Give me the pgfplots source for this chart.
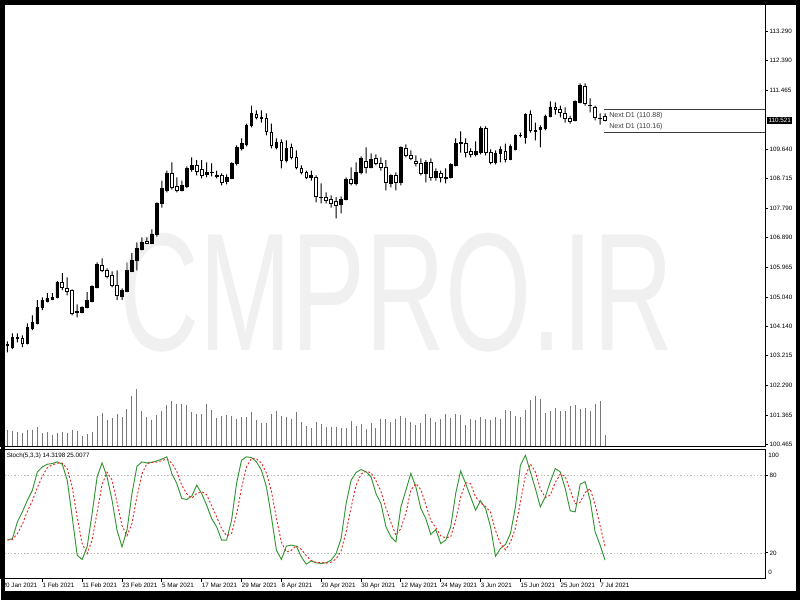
\documentclass[border=0pt]{standalone}
\usepackage{fontspec}
\setmainfont{Liberation Sans}
\usepackage{pgfplots}
\usepackage{pgfplotstable}
\pgfplotsset{compat=1.18}
\definecolor{wm}{RGB}{240,240,240}
\definecolor{volgray}{RGB}{120,120,120}
\definecolor{kgreen}{RGB}{50,150,50}
\definecolor{dred}{RGB}{230,40,40}
\definecolor{lvl}{RGB}{185,185,185}
\definecolor{nextgray}{RGB}{60,60,60}
\newcommand{\tf}{\fontsize{4.7pt}{5.6pt}\selectfont}

\pgfplotstableread{
i O H L C V K D
1 103.54 103.66 103.32 103.57 1670 30.0 30.0
2 103.48 103.91 103.42 103.79 1500 31.0 30.3
3 103.76 103.91 103.63 103.79 1430 44.0 35.0
4 103.76 103.85 103.48 103.60 1330 51.7 42.2
5 103.60 104.22 103.57 104.10 1670 60.7 52.1
6 104.07 104.47 104.01 104.25 1600 68.4 60.3
7 104.22 104.94 104.19 104.72 1930 82.6 70.6
8 104.72 105.03 104.63 104.94 1330 86.4 79.1
9 104.91 105.16 104.87 105.00 1400 88.5 85.8
10 104.97 105.16 104.94 105.03 1170 89.0 88.0
11 105.03 105.53 105.00 105.50 1330 90.3 89.3
12 105.50 105.78 105.25 105.34 1400 88.5 89.3
13 105.31 105.65 105.09 105.22 1330 76.1 85.0
14 105.25 105.28 104.47 104.53 1670 47.8 70.8
15 104.60 104.81 104.41 104.57 1530 18.2 47.4
16 104.57 104.75 104.53 104.72 1000 14.9 27.0
17 104.72 105.19 104.69 104.94 1270 24.7 19.3
18 104.91 105.40 104.87 105.37 1430 50.4 30.0
19 105.34 106.12 105.31 106.06 3000 78.7 51.3
20 106.02 106.24 105.81 105.87 3370 89.5 72.9
21 105.87 105.93 105.62 105.68 2670 78.7 82.3
22 105.71 105.84 105.34 105.40 2830 60.7 76.3
23 105.40 105.87 104.94 105.09 3200 37.5 59.0
24 105.06 105.31 104.94 105.25 2930 24.7 41.0
25 105.22 106.12 105.19 105.87 3730 37.5 33.2
26 105.84 106.40 105.81 106.18 5000 65.8 42.7
27 106.18 106.74 105.87 106.55 5700 86.9 63.4
28 106.52 106.89 106.49 106.74 3500 90.3 81.0
29 106.77 106.89 106.68 106.71 2930 89.5 88.9
30 106.71 107.14 106.68 106.99 2670 90.0 89.9
31 106.99 107.98 106.92 107.95 3100 91.1 90.2
32 107.95 108.66 107.82 108.42 3530 92.4 91.2
33 108.35 108.97 108.29 108.88 4100 94.2 92.6
34 108.88 109.22 108.38 108.45 4530 81.3 89.3
35 108.48 108.76 108.29 108.35 4270 73.6 83.0
36 108.35 108.66 108.32 108.51 4270 62.0 72.3
37 108.48 109.10 108.42 109.04 4100 61.2 65.6
38 109.01 109.38 108.94 109.13 3470 63.8 62.3
39 109.13 109.29 108.82 108.94 3270 72.3 65.8
40 109.01 109.29 108.73 108.82 3270 65.8 67.3
41 108.85 109.22 108.76 108.91 4270 56.8 65.0
42 108.91 109.19 108.79 108.90 3670 46.5 56.4
43 108.79 108.97 108.73 108.82 2870 40.1 47.8
44 108.82 108.88 108.51 108.60 3000 29.8 38.8
45 108.63 108.85 108.54 108.76 3170 29.8 33.2
46 108.73 109.22 108.70 109.19 3000 45.3 35.0
47 109.19 109.75 109.13 109.69 2770 73.6 49.6
48 109.66 109.97 109.60 109.81 2930 91.6 70.2
49 109.78 110.43 109.72 110.37 2930 94.2 86.5
50 110.37 110.99 110.31 110.75 3430 93.6 93.1
51 110.71 110.84 110.56 110.62 2670 90.3 92.7
52 110.62 110.84 110.46 110.59 2330 83.9 89.3
53 110.59 110.75 110.06 110.19 2330 71.0 81.7
54 110.16 110.43 109.66 109.75 3200 47.8 67.6
55 109.69 109.97 109.63 109.84 3500 22.1 47.0
56 109.84 109.94 109.04 109.29 3000 14.9 28.3
57 109.29 109.91 109.22 109.66 2930 25.2 20.7
58 109.69 109.81 109.32 109.38 2730 26.0 22.0
59 109.38 109.60 109.01 109.07 3470 25.2 25.5
60 109.04 109.13 108.85 108.91 2430 16.9 22.7
61 108.91 108.97 108.70 108.76 2030 11.3 17.8
62 108.76 108.97 108.66 108.82 1870 13.8 14.0
63 108.76 108.82 107.98 108.17 2400 12.3 12.5
64 108.14 108.57 107.95 108.12 2200 11.8 12.6
65 108.14 108.29 107.95 108.04 1930 12.3 12.1
66 108.07 108.20 107.82 107.95 1930 14.4 12.8
67 108.01 108.14 107.48 107.89 1930 19.5 15.4
68 107.92 108.17 107.64 108.07 1870 31.1 21.7
69 108.07 108.76 108.04 108.70 1870 58.1 36.2
70 108.70 109.07 108.51 108.57 2500 76.1 55.1
71 108.57 109.22 108.51 108.91 2070 82.1 72.1
72 108.91 109.41 108.85 109.35 2200 84.4 80.9
73 109.25 109.69 108.88 109.07 1770 82.6 83.0
74 109.07 109.50 109.04 109.32 2370 78.7 81.9
75 109.35 109.47 109.13 109.19 1870 65.8 75.7
76 109.19 109.38 108.97 109.07 2700 58.1 67.5
77 109.07 109.29 108.35 108.60 2730 40.1 54.7
78 108.57 108.85 108.45 108.82 2430 32.4 43.5
79 108.82 108.91 108.35 108.60 2770 28.5 33.7
80 108.60 109.72 108.51 109.69 3000 55.5 38.8
81 109.66 109.78 109.38 109.44 2830 68.4 50.8
82 109.44 109.60 109.29 109.35 2430 81.3 68.4
83 109.25 109.44 109.10 109.19 2170 71.0 73.6
84 109.19 109.35 108.82 108.88 2330 54.3 68.9
85 108.88 109.29 108.60 109.22 3200 46.5 57.3
86 109.22 109.35 108.66 108.76 2870 34.2 45.0
87 108.76 109.04 108.66 108.94 2430 38.0 39.6
88 108.88 108.97 108.60 108.76 2770 27.2 33.1
89 108.76 109.04 108.57 108.74 3270 29.8 31.7
90 108.76 109.19 108.73 109.16 2870 40.1 32.4
91 109.13 109.97 109.10 109.81 3270 65.8 45.2
92 109.81 110.19 109.53 109.84 3100 83.3 63.1
93 109.81 109.97 109.38 109.53 2100 73.6 74.2
94 109.56 109.66 109.38 109.47 2770 63.3 73.4
95 109.47 109.88 109.41 109.56 2670 53.0 63.3
96 109.53 110.34 109.47 110.28 2930 60.2 58.8
97 110.28 110.34 109.44 109.53 2770 54.3 55.8
98 109.53 109.63 109.16 109.22 2600 40.1 51.5
99 109.22 109.60 109.16 109.50 2930 17.4 37.3
100 109.50 109.72 109.22 109.63 2700 23.4 27.0
101 109.56 109.81 109.22 109.32 3670 26.5 22.4
102 109.32 109.78 109.29 109.72 3500 35.0 28.3
103 109.63 110.09 109.60 110.06 3000 55.5 39.0
104 110.06 110.15 110.00 110.05 2930 87.7 59.4
105 110.00 110.75 109.81 110.71 3670 95.4 79.5
106 110.71 110.84 110.15 110.22 4600 82.6 88.6
107 110.22 110.46 109.91 110.20 5000 69.7 82.6
108 110.25 110.37 109.69 110.31 4700 55.5 69.3
109 110.28 110.71 110.22 110.65 3330 63.3 62.8
110 110.65 111.12 110.62 110.93 3500 74.9 64.6
111 110.93 111.09 110.71 110.87 3830 85.1 74.4
112 110.87 110.99 110.62 110.78 3530 82.6 80.9
113 110.75 110.93 110.46 110.59 3530 69.7 79.1
114 110.59 110.68 110.43 110.50 4000 52.5 68.3
115 110.53 111.15 110.50 111.12 4100 51.7 58.0
116 111.09 111.68 111.06 111.61 3770 73.1 59.1
117 111.58 111.68 110.99 111.06 3830 74.9 66.6
118 110.99 111.21 110.78 110.98 3500 60.7 69.6
119 110.93 110.99 110.53 110.62 4200 36.2 57.3
120 110.59 110.75 110.40 110.58 4530 26.0 41.0
121 110.65 110.75 110.50 110.521 1100 14.3198 25.0077
}\data

\pgfplotsset{
  panel/.style={scale only axis, width=573.75pt, xmin=-0.4014, xmax=153.12,
    anchor=south west, axis line style={line width=0.75pt}},
  hidden/.style={panel, hide axis},
}

\begin{document}
\begin{tikzpicture}
\begin{scope}[x=0.75pt,y=-0.75pt]
\useasboundingbox (0,0) rectangle (800,600);
\fill[white] (0,0) rectangle (800,600);
\node[text=wm, font=\fontsize{126pt}{126pt}\selectfont, xscale=0.66, inner sep=0pt] at (396,292) {CMPRO.IR};
\end{scope}

% volume
\begin{axis}[hidden, at={(0pt,-334.5pt)}, height=334.5pt, ymin=0, ymax=44600]
\addplot[ycomb, draw=volgray, line width=0.75pt, mark=none] table[x=i,y=V]{\data};
\end{axis}

% main frame
\begin{axis}[panel, at={(0pt,-334.5pt)}, height=334.5pt, ymin=100.403, ymax=114.254,
  xtick=\empty,
  ytick={100.465,101.365,102.290,103.215,104.140,105.040,105.965,106.890,107.790,108.715,109.640,111.465,112.390,113.290},
  yticklabels={100.465,101.365,102.290,103.215,104.140,105.040,105.965,106.890,107.790,108.715,109.640,111.465,112.390,113.290},
  ytick pos=right, yticklabel pos=right, tick align=outside, major tick length=2.25pt,
  tick style={line width=0.6pt, black},
  yticklabel style={font=\tf, inner sep=1pt}]
\addplot[nextgray, line width=0.7pt] coordinates {(120.8,110.88) (154,110.88)};
\addplot[nextgray, line width=0.7pt] coordinates {(120.8,110.16) (154,110.16)};
\node[anchor=west, text=nextgray, font=\fontsize{5.3pt}{6pt}\selectfont, inner sep=0pt] at (axis cs:121.8,110.66) {Next D1 (110.88)};
\node[anchor=west, text=nextgray, font=\fontsize{5.3pt}{6pt}\selectfont, inner sep=0pt] at (axis cs:121.8,110.33) {Next D1 (110.16)};
\end{axis}

% wicks
\begin{axis}[hidden, at={(0pt,-334.5pt)}, height=334.5pt, ymin=100.403, ymax=114.254, ybar stacked, bar width=0.2]
\addplot[draw=none, fill=none] table[x=i,y=L]{\data};
\addplot[fill=black, draw=none] table[x=i, y expr=\thisrow{H}-\thisrow{L}]{\data};
\end{axis}

% bodies
\begin{axis}[hidden, at={(0pt,-334.5pt)}, height=334.5pt, ymin=100.403, ymax=114.254, ybar stacked, bar width=0.55]
\addplot[draw=none, fill=none] table[x=i, y expr={min(\thisrow{O},\thisrow{C})}]{\data};
\addplot[fill=black, draw=black, line width=0.6pt] table[x=i, y expr={max(\thisrow{C}-\thisrow{O},0)}]{\data};
\addplot[fill=white, draw=black, line width=0.6pt] table[x=i, y expr={max(\thisrow{O}-\thisrow{C},0)}]{\data};
\end{axis}

% stochastic
\begin{axis}[panel, at={(0pt,-433.95pt)}, height=97.125pt, ymin=0, ymax=100,
  xtick={0,8,...,120},
  xticklabels={20 Jan 2021,1 Feb 2021,11 Feb 2021,23 Feb 2021,5 Mar 2021,17 Mar 2021,29 Mar 2021,8 Apr 2021,20 Apr 2021,30 Apr 2021,12 May 2021,24 May 2021,3 Jun 2021,15 Jun 2021,25 Jun 2021,7 Jul 2021},
  xtick pos=left, ytick={20,80}, yticklabels={20,80}, ytick pos=right, yticklabel pos=right,
  tick align=outside, major tick length=2.25pt, tick style={line width=0.6pt, black},
  xticklabel style={font=\tf, anchor=north west, inner sep=1pt, xshift=-1pt},
  yticklabel style={font=\tf, inner sep=1pt}]
\addplot[lvl, dash pattern=on 1pt off 1.5pt, line width=0.5pt] coordinates {(-1,80) (154,80)};
\addplot[lvl, dash pattern=on 1pt off 1.5pt, line width=0.5pt] coordinates {(-1,20) (154,20)};
\addplot[kgreen, line width=0.7pt] table[x=i,y=K]{\data};
\addplot[dred, dash pattern=on 1.5pt off 1.5pt, line width=0.7pt] table[x=i,y=D]{\data};
\end{axis}

\begin{scope}[x=0.75pt,y=-0.75pt]
\node[anchor=west, font=\tf, inner sep=0pt] at (6,456) {Stoch(5,3,3) 14.3198 25.0077};
\node[anchor=west, font=\tf, inner sep=0pt] at (768,455) {100};
\node[anchor=west, font=\tf, inner sep=0pt] at (768,572) {0};
\node[anchor=west, font=\tf, fill=black, text=white, inner sep=1pt] at (767,120) {110.521};
\fill[black] (0,0) rectangle (5,600);
\fill[black] (0,0) rectangle (800,5);
\fill[black] (796,0) rectangle (800,600);
\fill[black] (0,591) rectangle (800,600);
\end{scope}
\end{tikzpicture}
\end{document}
